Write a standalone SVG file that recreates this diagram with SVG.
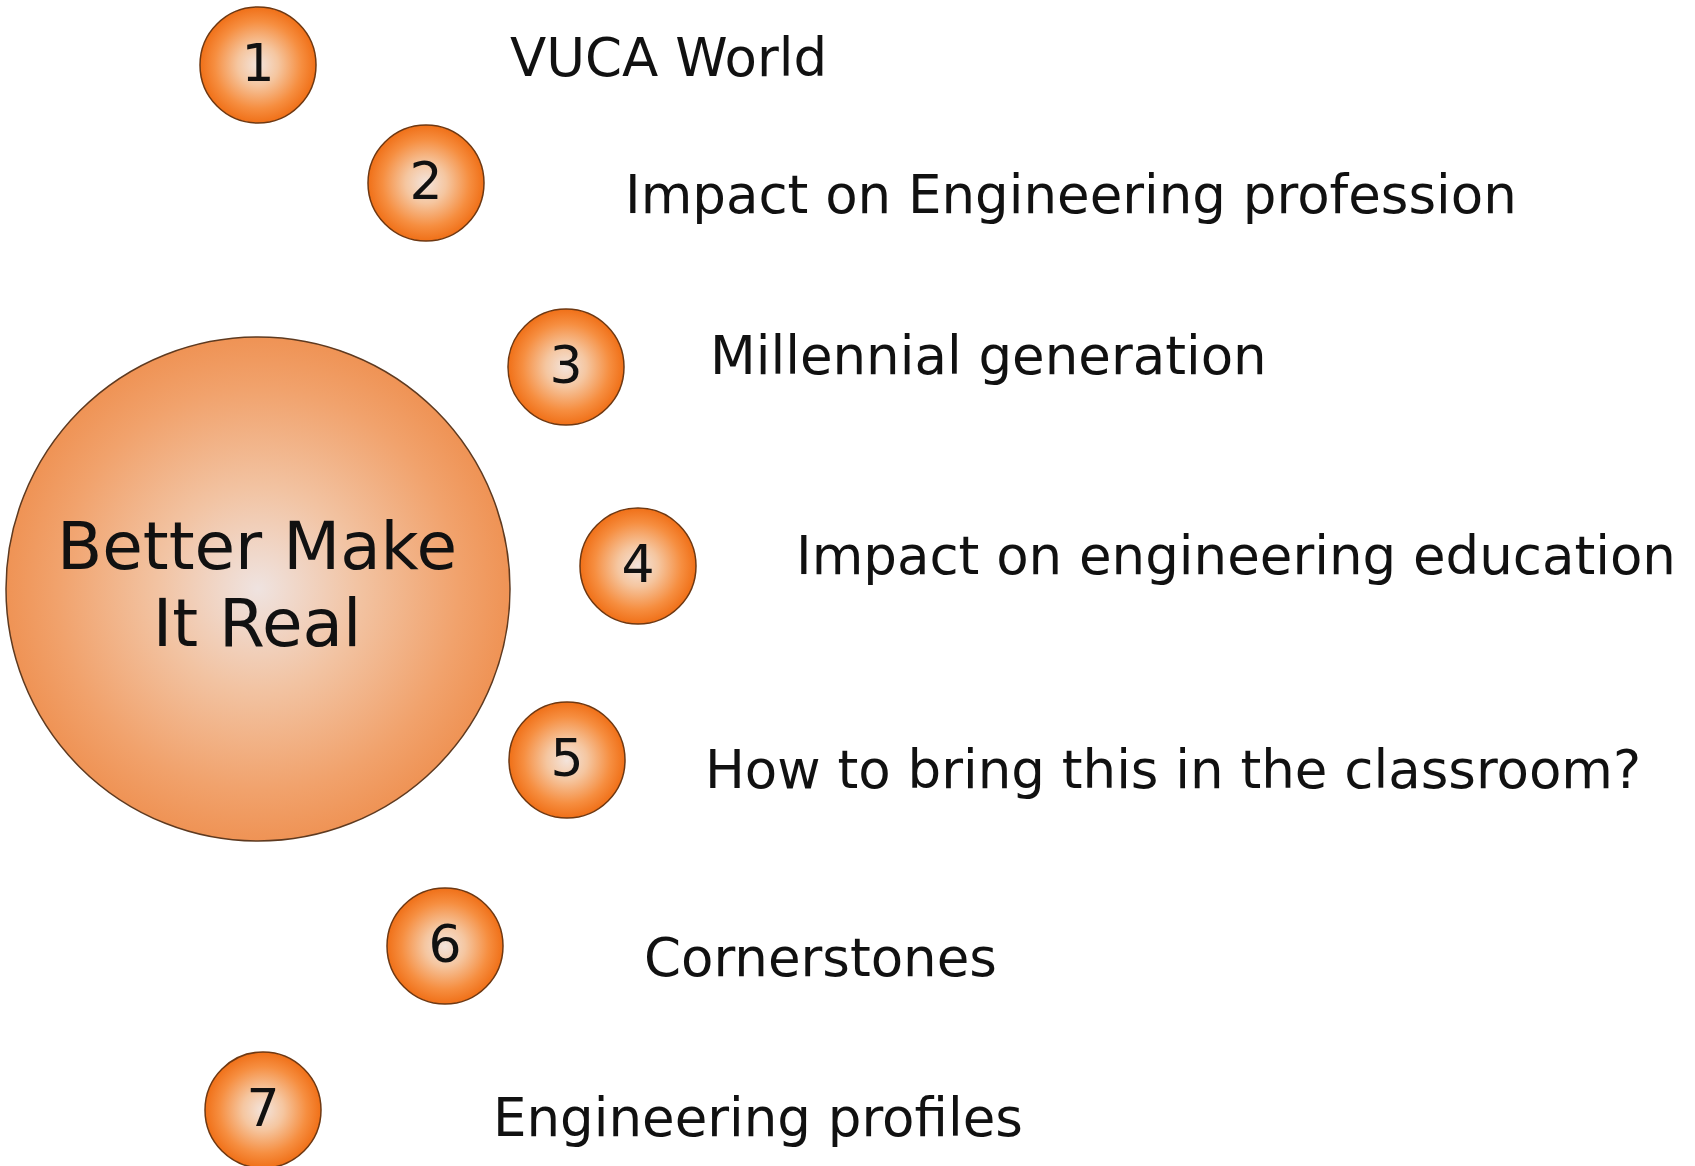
<svg xmlns="http://www.w3.org/2000/svg" width="1695" height="1166" viewBox="0 0 1695 1166">
<defs>
<radialGradient id="gSmall" cx="50%" cy="50%" r="50%">
<stop offset="0" stop-color="#f3e4dc"/>
<stop offset="0.35" stop-color="#f5c6a0"/>
<stop offset="0.75" stop-color="#f68e40"/>
<stop offset="1" stop-color="#f07018"/>
</radialGradient>
<radialGradient id="gBig" cx="50%" cy="50%" r="50%">
<stop offset="0" stop-color="#efe3e0"/>
<stop offset="0.4" stop-color="#f2c3a2"/>
<stop offset="0.8" stop-color="#f1a26c"/>
<stop offset="1" stop-color="#ef9355"/>
</radialGradient>
<style>
.small{fill:url(#gSmall);stroke:#6e3812;stroke-width:1.5}
.big{fill:url(#gBig);stroke:#5e3a20;stroke-width:1.5}
.num{font-family:"DejaVu Sans",Verdana,sans-serif;font-size:52px;fill:#111;text-anchor:middle}
.lbl{font-family:"DejaVu Sans",Verdana,sans-serif;font-size:53px;fill:#111}
.title{font-family:"DejaVu Sans",Verdana,sans-serif;font-size:66px;fill:#111;text-anchor:middle}
</style>
</defs>
<rect width="1695" height="1166" fill="#ffffff"/>
<g id="connectors"/>
<g id="center">
<circle class="big" cx="258" cy="589" r="252"/>
<text class="title" x="257" y="569">Better Make</text>
<text class="title" x="257" y="646">It Real</text>
</g>
<g id="node1">
<circle class="small" cx="258" cy="65" r="58"/>
<text class="num" x="258" y="81">1</text>
<text class="lbl" x="510" y="76">VUCA World</text>
</g>
<g id="node2">
<circle class="small" cx="426" cy="183" r="58"/>
<text class="num" x="426" y="199">2</text>
<text class="lbl" x="625" y="213">Impact on Engineering profession</text>
</g>
<g id="node3">
<circle class="small" cx="566" cy="367" r="58"/>
<text class="num" x="566" y="383">3</text>
<text class="lbl" x="710" y="374">Millennial generation</text>
</g>
<g id="node4">
<circle class="small" cx="638" cy="566" r="58"/>
<text class="num" x="638" y="582">4</text>
<text class="lbl" x="796" y="574">Impact on engineering education</text>
</g>
<g id="node5">
<circle class="small" cx="567" cy="760" r="58"/>
<text class="num" x="567" y="776">5</text>
<text class="lbl" x="705" y="788">How to bring this in the classroom?</text>
</g>
<g id="node6">
<circle class="small" cx="445" cy="946" r="58"/>
<text class="num" x="445" y="962">6</text>
<text class="lbl" x="644" y="976">Cornerstones</text>
</g>
<g id="node7">
<circle class="small" cx="263" cy="1110" r="58"/>
<text class="num" x="263" y="1126">7</text>
<text class="lbl" x="493" y="1136">Engineering profiles</text>
</g>
</svg>
